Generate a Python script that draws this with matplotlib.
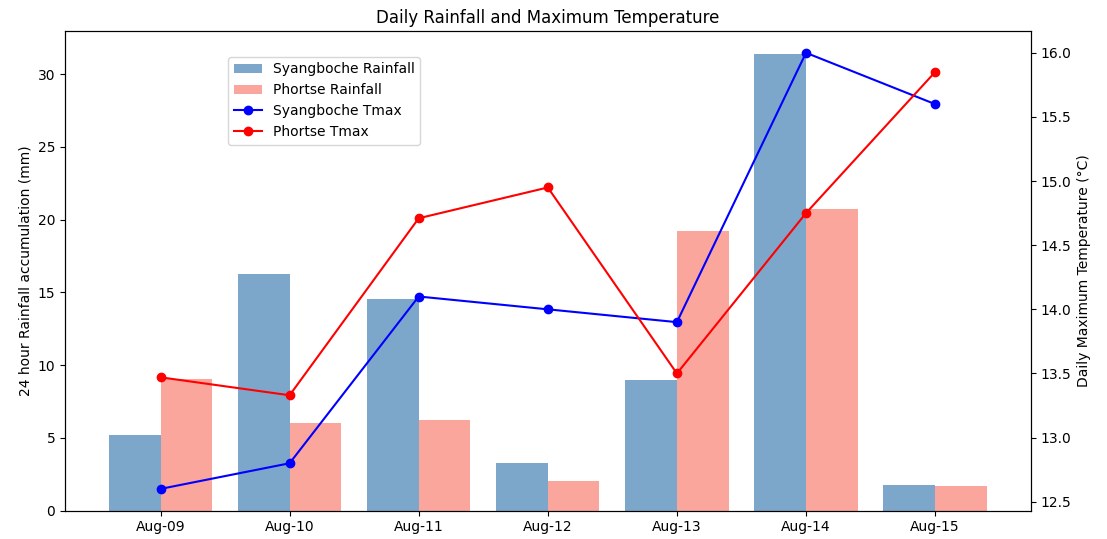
import numpy as np
import matplotlib
matplotlib.use("Agg")
import matplotlib.pyplot as plt

dates = ["Aug-09", "Aug-10", "Aug-11", "Aug-12", "Aug-13", "Aug-14", "Aug-15"]
syangboche_rain = [5.2, 16.3, 14.55, 3.3, 9.0, 31.4, 1.8]
phortse_rain = [9.05, 6.05, 6.2, 2.05, 19.2, 20.75, 1.7]
syangboche_tmax = [12.6, 12.8, 14.1, 14.0, 13.9, 16.0, 15.6]
phortse_tmax = [13.47, 13.33, 14.71, 14.95, 13.5, 14.75, 15.85]

x = np.arange(len(dates))
width = 0.4

fig, ax = plt.subplots(figsize=(11.07, 5.39), dpi=100)
fig.subplots_adjust(left=0.0587, right=0.931, bottom=0.0525, top=0.9425)

b1 = ax.bar(x - width / 2, syangboche_rain, width, color="steelblue", alpha=0.7,
            label="Syangboche Rainfall")
b2 = ax.bar(x + width / 2, phortse_rain, width, color="salmon", alpha=0.7,
            label="Phortse Rainfall")
ax.set_ylabel("24 hour Rainfall accumulation (mm)")
ax.set_xticks(x)
ax.set_xticklabels(dates)

ax2 = ax.twinx()
l1, = ax2.plot(x, syangboche_tmax, "o-", color="blue", label="Syangboche Tmax")
l2, = ax2.plot(x, phortse_tmax, "o-", color="red", label="Phortse Tmax")
ax2.set_ylabel("Daily Maximum Temperature (°C)")

ax.set_title("Daily Rainfall and Maximum Temperature")

handles = [b1, b2, l1, l2]
ax.legend(handles, [h.get_label() for h in handles], loc="upper left",
          bbox_to_anchor=(0.169, 0.946), borderaxespad=0)

fig.savefig("out.png")
